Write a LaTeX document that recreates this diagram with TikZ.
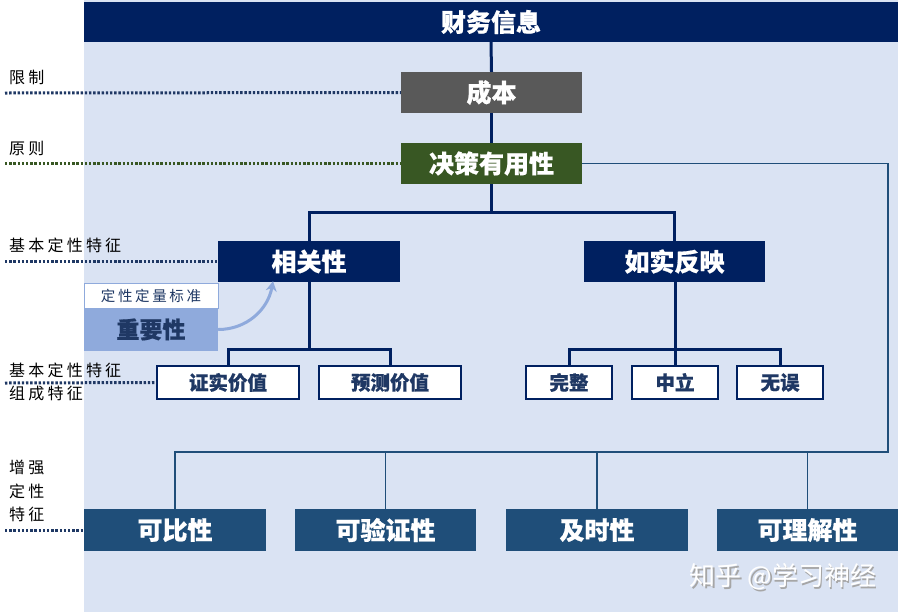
\documentclass[tikz,border=0pt]{standalone}
\usepackage{fontspec}
\setmainfont{Noto Sans CJK SC}[BoldFeatures={FakeBold=0.6}]
\newfontfamily\labfont{Noto Sans CJK SC}[LetterSpace=20]
\newfontfamily\bzfont{Noto Sans CJK SC}[LetterSpace=18]
\usetikzlibrary{arrows.meta}
\definecolor{navy}{HTML}{002060}
\definecolor{midblue}{HTML}{1F4E79}
\definecolor{costgray}{HTML}{595959}
\definecolor{dgreen}{HTML}{385723}
\definecolor{panel}{HTML}{DAE3F3}
\definecolor{impblue}{HTML}{8FAADC}
\definecolor{txtnavy}{HTML}{1F3864}
\begin{document}
\begin{tikzpicture}[x=1pt,y=-1pt,
  bigbox/.style={rectangle,inner sep=0pt,minimum height=41pt,text=white,font=\fontsize{25}{25}\selectfont\bfseries},
  subbox/.style={rectangle,inner sep=0pt,minimum height=33pt,fill=white,draw=navy,line width=1.5pt,text=txtnavy,font=\fontsize{19.5}{19.5}\selectfont\bfseries},
  tree/.style={draw=navy,line width=3pt},
  bus/.style={draw=midblue,line width=1.8pt},
  dotline/.style={line width=3pt,dash pattern=on 2.4pt off 1.8pt},
  lab/.style={anchor=west,inner sep=0pt,text=black,font=\labfont\fontsize{16}{18}\selectfont}
]
\useasboundingbox (0,0) rectangle (904,614);
\fill[white] (0,0) rectangle (904,614);
\fill[panel] (84,0) rectangle (898,612);

% top bar
\node[bigbox,fill=navy,minimum width=814pt,minimum height=40pt] (top) at (491,22) {财务信息};
\node[bigbox,fill=costgray,minimum width=181pt] (cb) at (491.5,92.5) {成本};
\node[bigbox,fill=dgreen,minimum width=181pt] (jc) at (491.5,163.5) {决策有用性};
\node[bigbox,fill=navy,minimum width=182pt] (xg) at (309,261.5) {相关性};
\node[bigbox,fill=navy,minimum width=181pt] (rs) at (674.5,261.5) {如实反映};

\node[subbox,minimum width=142pt] (zs) at (228,382.5) {证实价值};
\node[subbox,minimum width=142pt] (yc) at (390,382.5) {预测价值};
\node[subbox,minimum width=86pt] (wz) at (569,382.5) {完整};
\node[subbox,minimum width=86pt] (zl) at (675,382.5) {中立};
\node[subbox,minimum width=86pt] (ww) at (780,382.5) {无误};

\node[bigbox,fill=midblue,minimum width=182pt,minimum height=42pt] (kb) at (175,530) {可比性};
\node[bigbox,fill=midblue,minimum width=181pt,minimum height=42pt] (ky) at (385.5,530) {可验证性};
\node[bigbox,fill=midblue,minimum width=182pt,minimum height=42pt] (js) at (597,530) {及时性};
\node[bigbox,fill=midblue,minimum width=181pt,minimum height=42pt] (kl) at (807.5,530) {可理解性};

% importance
\node[rectangle,inner sep=0pt,minimum width=134pt,minimum height=25pt,fill=white,draw=impblue,line width=0.8pt,text=txtnavy,font=\bzfont\fontsize{14.5}{14.5}\selectfont] (bz) at (151,295.5) {定性定量标准};
\node[rectangle,inner sep=0pt,minimum width=134pt,minimum height=43pt,fill=impblue,text=txtnavy,font=\fontsize{23}{23}\selectfont\bfseries] (zy) at (151,329.5) {重要性};

% tree connectors
\draw[tree] (top.south) -- (cb.north);
\draw[tree] (cb.south) -- (jc.north);
\coordinate (b1) at (491.5,212);
\draw[tree] (jc.south) -- (b1);
\draw[tree] (xg.north) |- (b1) -| (rs.north);
\coordinate (b2) at (309,349);
\draw[tree] (xg.south) -- (b2);
\draw[tree] (zs.north) |- (b2) -| (yc.north);
\coordinate (b3) at (675,349);
\draw[tree] (rs.south -| b3) -- (b3);
\draw[tree] (wz.north) |- (b3) -| (ww.north);
\draw[tree] (b3) -- (zl.north);

% bus to enhancing characteristics
\coordinate (rc) at (888,452);
\draw[bus] (jc.east) -| (rc) -- (rc -| kb.north) -- (kb.north);
\draw[bus] (ky.north) -- (ky.north |- rc);
\draw[bus] (js.north) -- (js.north |- rc);
\draw[bus] (kl.north) -- (kl.north |- rc);

% importance arrow
\draw[impblue,line width=3pt,-{Stealth[length=10pt,width=11pt]}] (zy.east) to[out=0,in=-100] ([xshift=-36pt,yshift=1pt]xg.south);

% dotted guide lines and labels
\coordinate (d1) at (5,93);
\coordinate (d2) at (5,163.5);
\coordinate (d3) at (5,261.5);
\coordinate (d4) at (5,383);
\coordinate (d5) at (5,530);
\draw[dotline,color=txtnavy] (d1) -- (cb.west);
\draw[dotline,color=dgreen] (d2) -- (jc.west);
\draw[dotline,color=txtnavy] (d3) -- (xg.west);
\draw[dotline,color=txtnavy] (d4) -- (zs.west);
\draw[dotline,color=txtnavy] (d5) -- (kb.west);

\node[lab] (l1) at (9,77) {限制};
\node[lab] (l2) at (9,148) {原则};
\node[lab] (l3) at (9,245) {基本定性特征};
\node[lab] (l4) at (9,370) {基本定性特征};
\node[lab] (l5) at (9,393) {组成特征};
\node[lab] (l6) at (9,467) {增强};
\node[lab] (l7) at (9,491) {定性};
\node[lab] (l8) at (9,514) {特征};

% watermark
\node[text=gray!70,font=\fontsize{26}{26}\selectfont] (wm0) at (784.5,578.5) {知乎 @学习神经};
\node[text=white,font=\fontsize{26}{26}\selectfont] (wm) at (783,577) {知乎 @学习神经};
\end{tikzpicture}
\end{document}
